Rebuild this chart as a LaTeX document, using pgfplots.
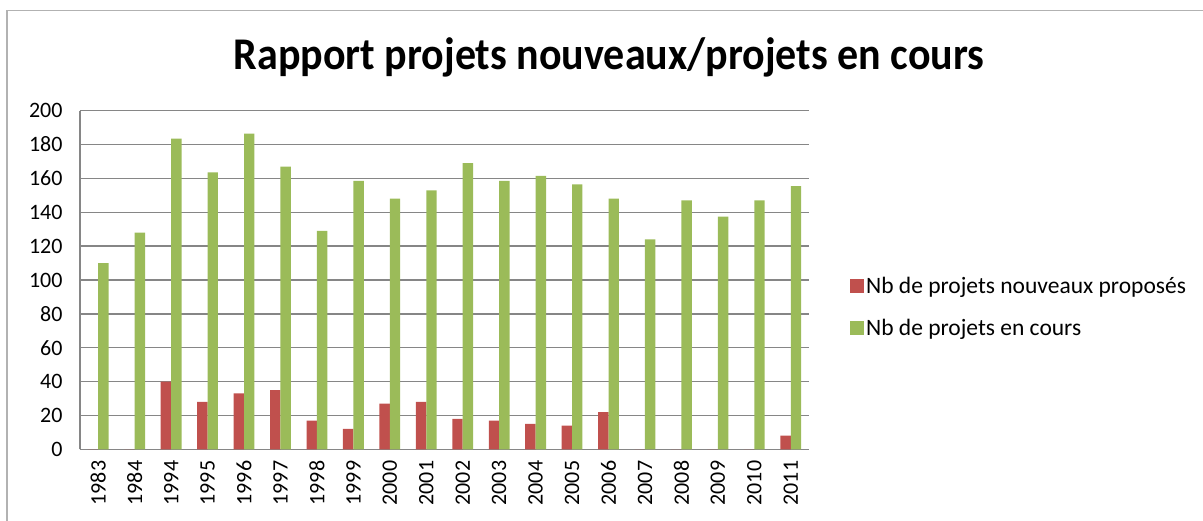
\documentclass[border=0pt]{standalone}
\usepackage{fontspec}
\setmainfont{Carlito}
\usepackage{pgfplots}
\pgfplotsset{compat=1.18}
\definecolor{exred}{HTML}{C0504D}
\definecolor{exgreen}{HTML}{9BBB59}
\definecolor{gridgray}{HTML}{868686}
\begin{document}
\begin{tikzpicture}[x=1pt,y=1pt]
\useasboundingbox (0,0) rectangle (1203,521);
\draw[color=gray!60, line width=1.6pt] (7,0) -- (7,510.5) -- (1203,510.5);
\node[font=\fontsize{42}{50}\selectfont\bfseries, yscale=1.08] at (609,464) {Rapport projets nouveaux/projets en cours};
\begin{axis}[
  at={(80pt,71.7pt)}, anchor=south west, scale only axis,
  width=729pt, height=338.6pt,
  ybar=0pt, bar width=10.4pt,
  xmin=-0.5, xmax=19.5, ymin=0, ymax=200,
  xtick={0,...,19},
  xticklabels={1983,1984,1994,1995,1996,1997,1998,1999,2000,2001,2002,2003,2004,2005,2006,2007,2008,2009,2010,2011},
  ytick={0,20,...,200},
  ymajorgrids, grid style={gridgray, line width=1.4pt},
  axis x line*=bottom, axis y line*=left,
  axis line style={gridgray, line width=1.4pt},
  major tick length=0pt,
  tick label style={font=\fontsize{22}{26}\selectfont},
  /pgf/number format/assume math mode=true,
  xticklabel style={rotate=90, anchor=east, xshift=-8pt, xshift=0pt},
  yticklabel style={anchor=east, xshift=-14pt},
  legend style={at={(1.052,0.42)}, anchor=west, draw=none, fill=none,
    font=\fontsize{23.5}{28}\selectfont, row sep=20pt, cells={anchor=west}},
  legend image code/.code={\fill[#1] (0pt,-7pt) rectangle (14pt,7pt);},
]
\addplot[fill=exred, draw=none] coordinates {
(0,0) (1,0) (2,40) (3,28) (4,33) (5,35) (6,17) (7,12) (8,27) (9,28)
(10,18) (11,17) (12,15) (13,14) (14,22) (15,0) (16,0) (17,0) (18,0) (19,8)};
\addplot[fill=exgreen, draw=none] coordinates {
(0,110) (1,128) (2,183.5) (3,163.5) (4,186.5) (5,167) (6,129) (7,158.5) (8,148) (9,153)
(10,169) (11,158.5) (12,161.5) (13,156.5) (14,148) (15,124) (16,147) (17,137.5) (18,147) (19,155.5)};
\legend{Nb de projets nouveaux proposés, Nb de projets en cours}
\end{axis}
\end{tikzpicture}
\end{document}
